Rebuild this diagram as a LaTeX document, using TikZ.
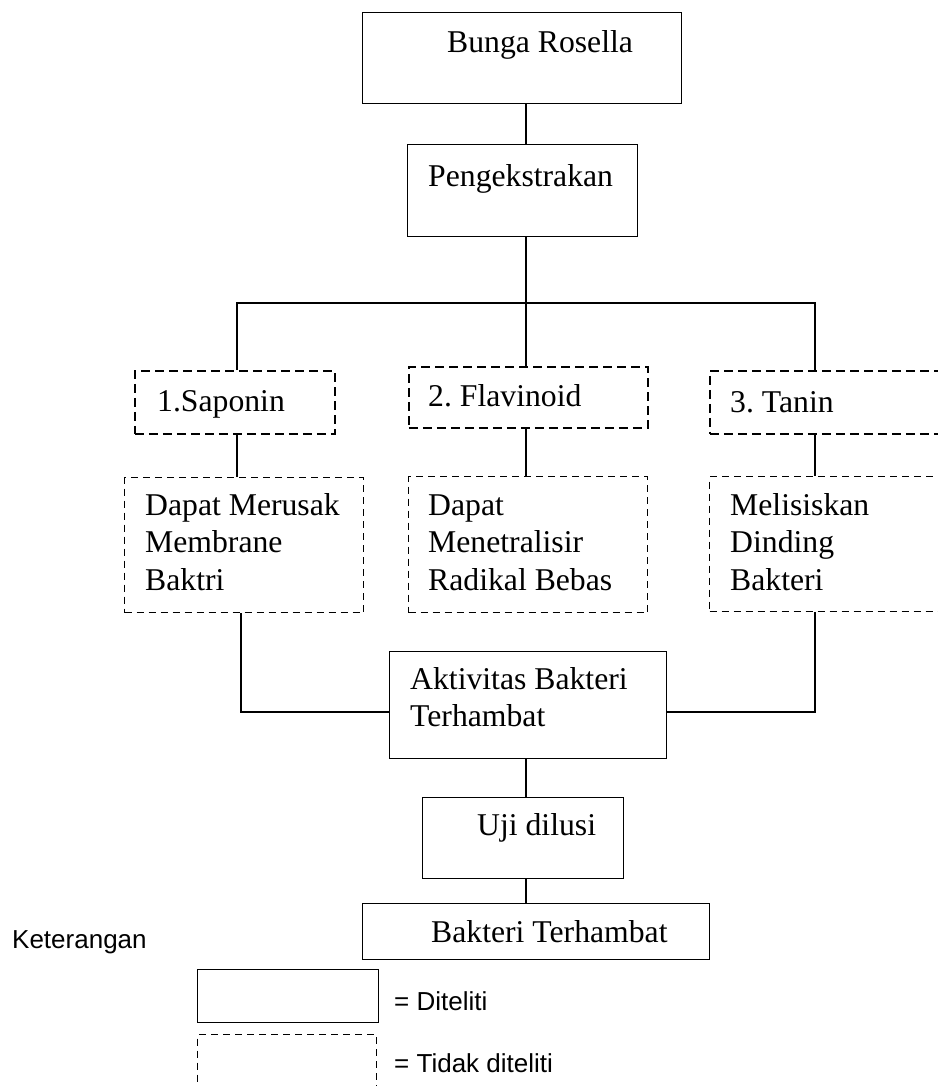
\documentclass[tikz,border=0pt]{standalone}
\usepackage{fontspec}
\setmainfont{Liberation Serif}
\newfontfamily\arialfont{Liberation Sans}
\usepackage{tikz}
\frenchspacing

\tikzset{
  box/.style={draw,line width=1.4pt,inner sep=0pt,anchor=north west},
  dbox/.style={draw,line width=1.5pt,dash pattern=on 9pt off 5pt,inner sep=0pt,anchor=north west},
  dtbox/.style={draw,line width=1pt,dash pattern=on 7pt off 5pt,inner sep=0pt,anchor=north west},
  txt/.style={inner sep=0pt,anchor=base west,text width=300pt,align=flush left,font=\fontsize{31.7}{37.5}\selectfont},
  legtxt/.style={inner sep=0pt,anchor=base west,font=\arialfont\fontsize{26}{30}\selectfont},
  link/.style={line width=1.1pt}
}

\begin{document}
\begin{tikzpicture}[x=1pt,y=-1pt]
\useasboundingbox (0,0) rectangle (937,1086);

%Alur penelitian
\node[box,minimum width=319pt,minimum height=91pt] (rosella) at (362,12) {};
\node[txt] (trosella) at (447,53) {Bunga Rosella};
\node[box,minimum width=230pt,minimum height=92pt] (pengek) at (407,144) {};
\node[txt] (tpengek) at (428,186) {Pengekstrakan};

\node[dbox,minimum width=200pt,minimum height=63pt] (saponin) at (134,370) {};
\node[txt] (tsaponin) at (157,411) {1.Saponin};
\node[dbox,minimum width=239pt,minimum height=61pt] (flavinoid) at (408,366) {};
\node[txt] (tflavinoid) at (428,406) {2. Flavinoid};
\node[dbox,minimum width=260pt,minimum height=63pt] (tanin) at (709,370) {};
\node[txt] (ttanin) at (730,412) {3. Tanin};

\node[dtbox,minimum width=239pt,minimum height=135pt] (merusak) at (124,477) {};
\node[txt] (tmerusak) at (145,515) {Dapat Merusak\\Membrane\\Baktri};
\node[dtbox,minimum width=239pt,minimum height=136pt] (netral) at (408,476) {};
\node[txt] (tnetral) at (428,515) {Dapat\\Menetralisir\\Radikal Bebas};
\node[dtbox,minimum width=260pt,minimum height=135pt] (lisis) at (709,476) {};
\node[txt] (tlisis) at (730,515) {Melisiskan\\Dinding\\Bakteri};

\node[box,minimum width=277pt,minimum height=107pt] (aktivitas) at (389,651) {};
\node[txt] (taktivitas) at (410,689) {Aktivitas Bakteri\\Terhambat};
\node[box,minimum width=201pt,minimum height=81pt] (uji) at (422,797) {};
\node[txt] (tuji) at (477,835) {Uji dilusi};
\node[box,minimum width=347pt,minimum height=56pt] (hasil) at (362,903) {};
\node[txt] (thasil) at (431,942) {Bakteri Terhambat};

%Keterangan
\node[legtxt] (ket) at (12,948) {Keterangan};
\node[box,minimum width=181pt,minimum height=53pt] (leg1) at (197,969) {};
\node[legtxt] (tleg1) at (394,1010) {= Diteliti};
\node[dtbox,minimum width=179pt,minimum height=70pt] (leg2) at (197,1034) {};
\node[legtxt] (tleg2) at (394,1072) {= Tidak diteliti};

%garis
\coordinate (bar) at (526,303);
\coordinate (sapx) at (237,303);
\coordinate (tanx) at (815,303);
\coordinate (kiri) at (241,712);
\coordinate (kanan) at (815,712);

\draw[link] (rosella.south -| bar) -- (pengek.north -| bar);
\draw[link] (pengek.south -| bar) -- (bar);
\draw[link] (saponin.north -| sapx) |- (tanx) -- (tanx |- tanin.north);
\draw[link] (bar) -- (bar |- flavinoid.north);
\draw[link] (saponin.south -| sapx) -- (merusak.north -| sapx);
\draw[link] (flavinoid.south -| bar) -- (netral.north -| bar);
\draw[link] (tanin.south -| tanx) -- (lisis.north -| tanx);
\draw[link] (merusak.south -| kiri) -- (kiri) -- (kiri -| aktivitas.west);
\draw[link] (aktivitas.east |- kanan) -- (kanan) -- (lisis.south -| kanan);
\draw[link] (aktivitas.south -| bar) -- (uji.north -| bar);
\draw[link] (uji.south -| bar) -- (hasil.north -| bar);

\end{tikzpicture}
\end{document}
